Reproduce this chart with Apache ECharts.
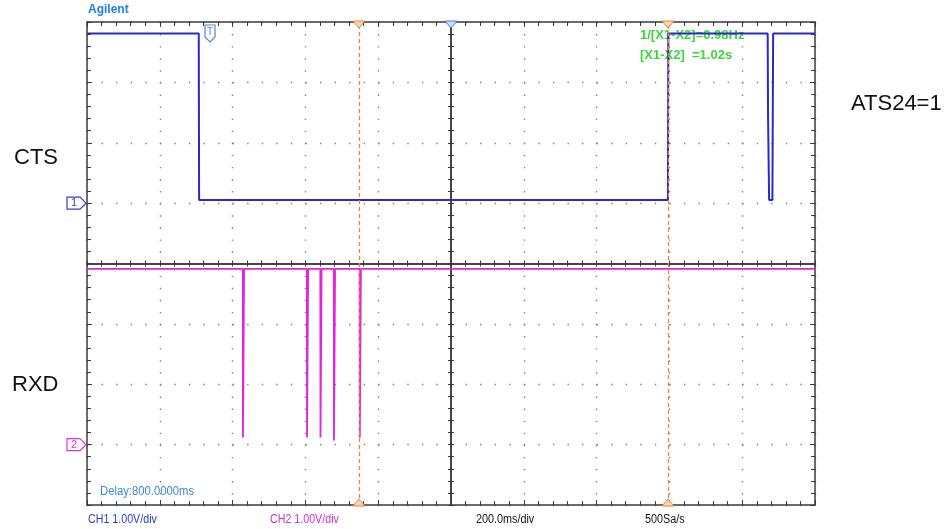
<!DOCTYPE html>
<html>
<head>
<meta charset="utf-8">
<script src="https://cdn.jsdelivr.net/npm/echarts@6/dist/echarts.min.js"></script>
<style>
html,body{margin:0;padding:0;background:#fff;}
#c{width:952px;height:529px;}
</style>
</head>
<body>
<div id="c"></div>
<script>
// ---- data (time in ms, voltage in V) ----
const ctsTime = [-199, 107, 108, 1396, 1397, 1670, 1671, 1673, 1674, 1683, 1685, 1800];
const ctsVolt = [2.81, 2.81, 0.05, 0.05, 2.81, 2.81, 1.46, 1.46, 0.05, 0.05, 2.81, 2.81];
const rxdTime = [-199, 228, 228.5, 231, 231.5, 404, 404.5, 407, 407.5, 441, 441.5, 444, 444.5, 478, 478.5, 481, 481.5, 549, 549.5, 552, 552.5, 1800];
const rxdVolt = [2.91, 2.91, 0.12, 0.12, 2.91, 2.91, 0.12, 0.12, 2.91, 2.91, 0.12, 0.12, 2.91, 2.91, 0.07, 0.07, 2.91, 2.91, 0.12, 0.12, 2.91, 2.91];
const cursorTimes = [547, 1396];
const triggerTime = 138;
const delayTime = 800;
const timeRange = [-200, 1800, 200];
const ch1Range = [-5, 3];
const ch2Range = [-1, 7];
const labels = {
  ch1: 'CTS', ch2: 'RXD', side: 'ATS24=1', brand: 'Agilent',
  ch1Scale: 'CH1 1.00V/div', ch2Scale: 'CH2 1.00V/div', timeScale: '200.0ms/div', rate: '500Sa/s',
  delay: 'Delay:800.0000ms', meas1: '1/[X1-X2]=0.98Hz', meas2: '[X1-X2]  =1.02s'
};

const chart = echarts.init(document.getElementById('c'), null, {renderer: 'canvas'});
const BORDER = '#3a3a3a';
const DOT = '#808080';
const CH1C = '#2b2bc4';
const CH2C = '#e024e0';
const ORANGE = '#e8843c';

function xAx(extra) {
  return Object.assign({
    type: 'value', min: timeRange[0], max: timeRange[1], interval: timeRange[2],
    axisLine: {show: true, onZero: false, lineStyle: {color: BORDER, width: 1.5}},
    axisTick: {show: true, inside: true, length: 5, lineStyle: {color: BORDER, width: 1}},
    minorTick: {show: true, splitNumber: 5, length: 4, lineStyle: {color: BORDER, width: 1}},
    axisLabel: {show: false}, splitLine: {show: false}
  }, extra);
}
function yAx(rng, extra) {
  return Object.assign({
    type: 'value', min: rng[0], max: rng[1], interval: 1,
    axisLine: {show: true, onZero: false, lineStyle: {color: BORDER, width: 1.5}},
    axisTick: {show: true, inside: true, length: 5, lineStyle: {color: BORDER, width: 1}},
    minorTick: {show: true, splitNumber: 5, length: 4, lineStyle: {color: BORDER, width: 1}},
    axisLabel: {show: false}, splitLine: {show: false}
  }, extra);
}

const option = {
  animation: false,
  backgroundColor: '#fff',
  grid: {left: 87, right: 137, top: 22, bottom: 24, containLabel: false},
  xAxis: [
    xAx({position: 'bottom', splitLine: {show: true, lineStyle: {color: DOT, width: 1.4, type: [1.4, 10.68]}}}),
    xAx({position: 'top'}),
    xAx({position: 'bottom', offset: -241.5, axisTick: {show: true, inside: true, length: 3, lineStyle: {color: BORDER}}, minorTick: {show: true, splitNumber: 5, length: 3, lineStyle: {color: BORDER}}}),
    xAx({position: 'bottom', offset: -241.5, axisTick: {show: true, inside: false, length: 3, lineStyle: {color: BORDER}}, minorTick: {show: true, splitNumber: 5, length: 3, lineStyle: {color: BORDER}}})
  ],
  yAxis: [
    yAx(ch1Range, {position: 'left', splitLine: {show: true, lineStyle: {color: DOT, width: 1.4, type: [1.4, 13.16]}}}),
    yAx(ch2Range, {position: 'left', show: false}),
    yAx(ch1Range, {position: 'right'}),
    yAx(ch1Range, {position: 'left', offset: -364, axisTick: {show: true, inside: true, length: 3, lineStyle: {color: BORDER}}, minorTick: {show: true, splitNumber: 5, length: 3, lineStyle: {color: BORDER}}}),
    yAx(ch1Range, {position: 'left', offset: -364, axisTick: {show: true, inside: false, length: 3, lineStyle: {color: BORDER}}, minorTick: {show: true, splitNumber: 5, length: 3, lineStyle: {color: BORDER}}})
  ],
  series: [
    {
      name: 'CTS', type: 'line', xAxisIndex: 0, yAxisIndex: 0, showSymbol: false, symbol: 'none',
      data: ctsTime.map((t, i) => [t, ctsVolt[i]]),
      lineStyle: {color: CH1C, width: 2}, z: 5,
      markLine: {
        silent: true, symbol: 'none', label: {show: false}, z: 6,
        lineStyle: {color: ORANGE, type: [4, 3], width: 1.3, opacity: 1},
        emphasis: {disabled: true},
        data: cursorTimes.map(t => ({xAxis: t}))
      }
    },
    {
      name: 'RXD', type: 'line', xAxisIndex: 0, yAxisIndex: 1, showSymbol: false, symbol: 'none',
      data: rxdTime.map((t, i) => [t, rxdVolt[i]]),
      lineStyle: {color: CH2C, width: 1.8}, z: 5
    }
  ]
};
chart.setOption(option);

const px = t => chart.convertToPixel({xAxisIndex: 0}, t);
const py1 = v => chart.convertToPixel({yAxisIndex: 0}, v);
const py2 = v => chart.convertToPixel({yAxisIndex: 1}, v);
const gTop = py1(ch1Range[1]);
const gBot = py1(ch1Range[0]);
const gLeft = px(timeRange[0]);

function chMarker(y, color, txt) {
  const x0 = gLeft - 20, x1 = gLeft - 7, x2 = gLeft - 1;
  return [
    {type: 'polygon', z: 20, shape: {points: [[x0, y - 6], [x1, y - 6], [x2, y], [x1, y + 6], [x0, y + 6]]},
      style: {fill: '#fff', stroke: color, lineWidth: 1.2}},
    {type: 'text', z: 21, x: x0 + 7, y: y, style: {text: txt, fill: color, font: '11px "Liberation Sans"', textAlign: 'center', textVerticalAlign: 'middle'}}
  ];
}
function triDown(x, y, fill, stroke) {
  return {type: 'polygon', z: 20, shape: {points: [[x - 6, y - 1], [x + 6, y - 1], [x, y + 6]]}, style: {fill: fill, stroke: stroke, lineWidth: 1}};
}
function triUp(x, y, fill, stroke) {
  return {type: 'polygon', z: 20, shape: {points: [[x - 6, y + 1], [x + 6, y + 1], [x, y - 6]]}, style: {fill: fill, stroke: stroke, lineWidth: 1}};
}
function txt(x, y, s, font, color, sx, z) {
  return {type: 'text', z: z || 30, x: x, y: y, scaleX: sx || 1, style: {text: s, font: font, fill: color, textVerticalAlign: 'middle'}};
}

const tx = px(triggerTime);
const SMALL = '12px "Liberation Sans"';
const graphics = [].concat(
  chMarker(py1(0), '#3a3ad0', '1'),
  chMarker(py2(0), '#e030e0', '2'),
  [
    {type: 'polygon', z: 20, shape: {points: [[tx - 5, gTop + 3], [tx + 5, gTop + 3], [tx + 5, gTop + 15], [tx, gTop + 20], [tx - 5, gTop + 15]]},
      style: {fill: '#fff', stroke: '#4f86d6', lineWidth: 1.2}},
    {type: 'text', z: 21, x: tx, y: gTop + 10, style: {text: 'T', font: '10px "Liberation Sans"', fill: '#4f86d6', textAlign: 'center', textVerticalAlign: 'middle'}},
    triDown(px(delayTime), gTop, '#cfe0fb', '#3a78e0')
  ],
  cursorTimes.map(t => triDown(px(t), gTop, '#f8d4b4', ORANGE)),
  cursorTimes.map(t => triUp(px(t), gBot, '#f8d4b4', ORANGE)),
  [
    txt(88, 10, labels.brand, 'bold 12px "Liberation Sans"', '#1f7fe0'),
    txt(640, 35, labels.meas1, 'bold 13px "Liberation Sans"', '#3ad83a', 1, 1),
    txt(640, 55, labels.meas2, 'bold 13px "Liberation Sans"', '#3ad83a', 1, 1),
    txt(100, 492, labels.delay, SMALL, '#3a8ad8', 0.94),
    txt(88, 520, labels.ch1Scale, SMALL, '#2c3cc4', 0.89),
    txt(270, 520, labels.ch2Scale, SMALL, '#d22ed2', 0.89),
    txt(476, 520, labels.timeScale, SMALL, '#111', 0.9),
    txt(645, 520, labels.rate, SMALL, '#111', 0.9),
    txt(14, 158, labels.ch1, '22px "Liberation Sans"', '#111'),
    txt(12, 385, labels.ch2, '22px "Liberation Sans"', '#111'),
    txt(851, 104, labels.side, '22px "Liberation Sans"', '#111')
  ]
);
chart.setOption({graphic: graphics});
</script>
</body>
</html>
